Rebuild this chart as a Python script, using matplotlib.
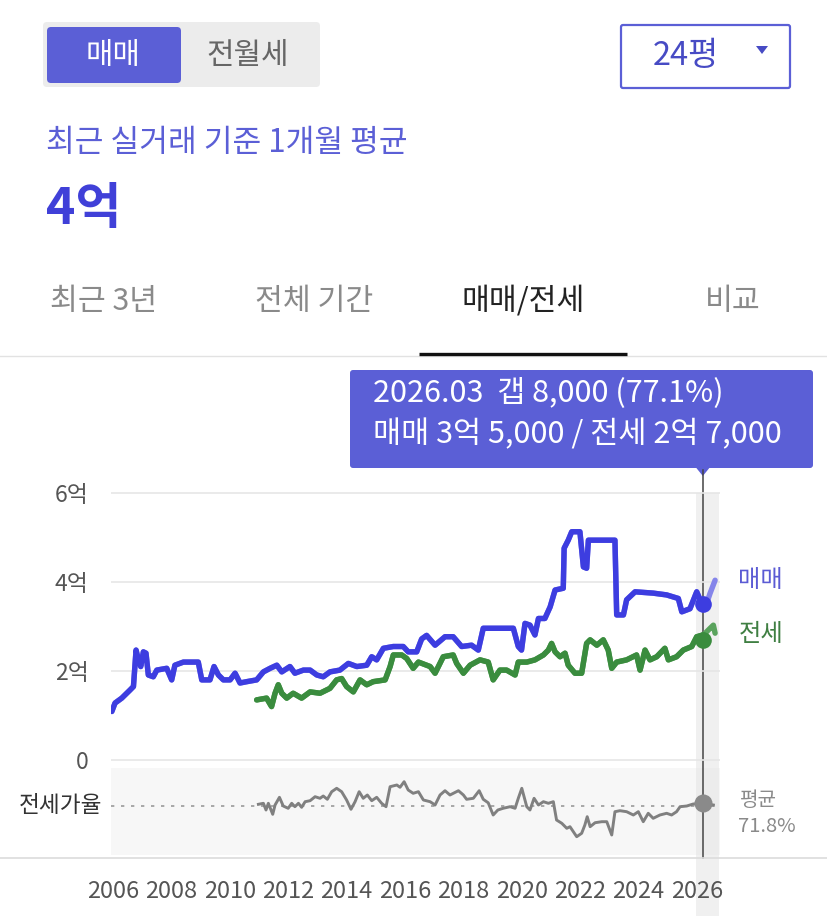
import numpy as np
import matplotlib
matplotlib.use("Agg")
import matplotlib.pyplot as plt
from matplotlib import transforms
from matplotlib.patches import FancyBboxPatch, Rectangle, Polygon
from matplotlib.lines import Line2D

plt.rcParams['font.family'] = ['Noto Sans CJK KR', 'DejaVu Sans']

# 매매가 (억)
sale_year = [2005.96, 2006.07, 2006.30, 2006.58, 2006.70, 2006.79, 2006.87, 2006.95, 2007.04, 2007.13,
             2007.21, 2007.38, 2007.50, 2007.84, 2008.01, 2008.12, 2008.41, 2008.92, 2009.04, 2009.32,
             2009.46, 2009.61, 2009.78, 2010.01, 2010.18, 2010.35, 2010.58, 2010.92, 2011.15, 2011.38,
             2011.61, 2011.78, 2012.06, 2012.23, 2012.52, 2012.75, 2012.98, 2013.20, 2013.43, 2013.77,
             2014.06, 2014.35, 2014.69, 2014.86, 2015.03, 2015.26, 2015.60, 2015.94, 2016.11, 2016.40,
             2016.57, 2016.74, 2017.03, 2017.37, 2017.65, 2017.94, 2018.28, 2018.51, 2018.68, 2019.71,
             2019.88, 2019.99, 2020.11, 2020.28, 2020.45, 2020.57, 2020.79, 2020.97, 2021.14, 2021.42,
             2021.45, 2021.59, 2021.71, 2021.99, 2022.11, 2022.22, 2022.28, 2023.19, 2023.25, 2023.48,
             2023.59, 2023.88, 2024.50, 2024.96, 2025.36, 2025.48, 2025.76, 2025.99, 2026.16, 2026.33,
             2026.45, 2026.62]
sale_price = [1.09, 1.28, 1.39, 1.57, 1.65, 2.47, 2.25, 2.10, 2.43, 2.40,
              1.91, 1.87, 2.02, 2.06, 1.80, 2.13, 2.20, 2.20, 1.80, 1.80,
              2.10, 1.91, 1.80, 1.80, 1.95, 1.73, 1.76, 1.80, 1.98, 2.06,
              2.13, 1.98, 2.10, 1.95, 2.02, 2.02, 1.91, 1.87, 1.98, 2.02,
              2.17, 2.10, 2.13, 2.32, 2.25, 2.51, 2.55, 2.55, 2.43, 2.43,
              2.72, 2.80, 2.58, 2.77, 2.77, 2.55, 2.58, 2.47, 2.96, 2.96,
              2.55, 2.47, 3.07, 3.03, 2.81, 3.18, 3.18, 3.44, 3.82, 3.86,
              4.76, 4.94, 5.13, 5.13, 4.34, 4.31, 4.94, 4.94, 3.26, 3.26,
              3.60, 3.78, 3.75, 3.71, 3.63, 3.33, 3.40, 3.78, 3.52, 3.52,
              3.75, 4.04]

# 전세가 (억)
jeonse_year = [2010.92, 2011.26, 2011.43, 2011.55, 2011.66, 2011.78, 2011.95, 2012.17, 2012.46, 2012.75,
               2013.09, 2013.43, 2013.66, 2013.83, 2014.00, 2014.23, 2014.46, 2014.69, 2014.91, 2015.32,
               2015.49, 2015.60, 2015.89, 2016.06, 2016.28, 2016.46, 2016.86, 2017.03, 2017.31, 2017.65,
               2017.77, 2018.00, 2018.23, 2018.57, 2018.85, 2019.02, 2019.25, 2019.48, 2019.77, 2019.88,
               2020.17, 2020.45, 2020.74, 2020.91, 2021.02, 2021.14, 2021.31, 2021.48, 2021.59, 2021.82,
               2022.05, 2022.22, 2022.34, 2022.57, 2022.79, 2022.96, 2023.08, 2023.25, 2023.59, 2023.93,
               2024.05, 2024.22, 2024.39, 2024.62, 2024.90, 2025.02, 2025.30, 2025.53, 2025.82, 2025.99,
               2026.22, 2026.45, 2026.56, 2026.62]
jeonse_price = [1.35, 1.39, 1.20, 1.50, 1.69, 1.50, 1.39, 1.50, 1.39, 1.53,
                1.50, 1.61, 1.80, 1.83, 1.65, 1.53, 1.80, 1.69, 1.76, 1.80,
                2.10, 2.36, 2.36, 2.28, 2.06, 2.20, 2.10, 1.95, 2.32, 2.36,
                2.17, 1.95, 2.13, 2.25, 2.20, 1.80, 2.02, 2.02, 1.91, 2.20,
                2.20, 2.25, 2.36, 2.47, 2.62, 2.43, 2.32, 2.40, 2.13, 1.95,
                1.95, 2.62, 2.70, 2.58, 2.70, 2.47, 2.06, 2.20, 2.25, 2.36,
                2.02, 2.47, 2.25, 2.32, 2.51, 2.25, 2.32, 2.47, 2.55, 2.77,
                2.81, 2.96, 3.03, 2.85]

# 전세가율 (%)
ratio_year = [2010.98, 2011.15, 2011.24, 2011.32, 2011.47, 2011.55, 2011.70, 2011.83, 2012.00, 2012.12,
              2012.23, 2012.35, 2012.46, 2012.58, 2012.75, 2012.92, 2013.09, 2013.20, 2013.34, 2013.49,
              2013.66, 2013.83, 2014.00, 2014.15, 2014.29, 2014.43, 2014.57, 2014.71, 2014.86, 2015.03,
              2015.20, 2015.35, 2015.49, 2015.72, 2015.83, 2015.97, 2016.11, 2016.28, 2016.46, 2016.63,
              2016.86, 2017.03, 2017.20, 2017.37, 2017.54, 2017.83, 2018.00, 2018.11, 2018.34, 2018.54,
              2018.68, 2018.85, 2019.02, 2019.18, 2019.36, 2019.60, 2019.77, 2019.88, 2020.00, 2020.17,
              2020.28, 2020.42, 2020.57, 2020.74, 2020.91, 2021.08, 2021.19, 2021.37, 2021.54, 2021.65,
              2021.88, 2022.05, 2022.16, 2022.24, 2022.34, 2022.51, 2022.74, 2022.91, 2023.08, 2023.19,
              2023.36, 2023.59, 2023.82, 2023.99, 2024.16, 2024.33, 2024.50, 2024.73, 2024.96, 2025.13,
              2025.30, 2025.42, 2025.65, 2025.87, 2026.22, 2026.56]
ratio_pct = [73.5, 74.5, 67.8, 74.5, 63.5, 72.8, 80.5, 71.8, 69.5, 74.5,
             71.1, 74.5, 70.5, 76.1, 77.1, 81.1, 79.5, 81.8, 78.5, 86.1,
             89.5, 86.1, 77.8, 68.5, 76.1, 86.1, 79.5, 82.8, 77.1, 80.5,
             74.5, 71.1, 91.1, 92.8, 90.5, 96.1, 87.8, 84.5, 86.1, 77.8,
             76.1, 72.8, 82.8, 87.1, 82.8, 87.1, 82.8, 78.5, 79.5, 87.1,
             78.5, 75.0, 62.8, 67.8, 69.5, 71.1, 69.5, 79.5, 89.5, 71.1,
             67.8, 79.5, 72.8, 76.1, 74.5, 76.1, 57.8, 54.5, 49.5, 51.1,
             41.1, 44.5, 52.8, 61.1, 51.1, 55.1, 56.1, 56.1, 42.8, 66.1,
             67.1, 66.1, 62.8, 66.1, 56.1, 64.5, 59.5, 62.8, 64.5, 62.8,
             66.1, 71.1, 71.8, 73.8, 74.5, 72.8]
ratio_avg = 71.8

year_ticks = list(range(2006, 2027, 2))
price_ticks = [0, 2, 4, 6]
price_labels = ['0', '2억', '4억', '6억']

# 커서 (2026.03)
cursor_label = '2026.03'
cursor_year = 2026.2
cursor_sale = 35000     # 만원
cursor_jeonse = 27000   # 만원
cursor_gap = 8000
cursor_gap_pct = 77.1
cursor_ratio_line = 74.5

tabs = ['최근 3년', '전체 기간', '매매/전세', '비교']
tab_x = [104, 314, 523, 733]

BLUE = '#3d3de0'
GREEN = '#3a8c3e'
ACCENT = '#5b5fd6'
WT = 500


def won(v):
    eok, man = divmod(v, 10000)
    return f'{eok}억 {man:,}' if man else f'{eok}억'


W, H = 827, 916
fig = plt.figure(figsize=(W / 100, H / 100), dpi=100)


def box(l, t, r, b):
    return [l / W, 1 - b / H, (r - l) / W, (b - t) / H]


# 배경 UI 레이어 (픽셀 좌표)
ui = fig.add_axes([0, 0, 1, 1], zorder=-1)
ui.set_xlim(0, W)
ui.set_ylim(H, 0)
ui.axis('off')

px_per_year = 29.2
x_left = 2006 + (111 - 113) / px_per_year
x_right = 2006 + (720 - 113) / px_per_year

ax = fig.add_axes(box(111, 491.7, 720, 761.3))
ax2 = fig.add_axes(box(111, 768, 720, 855), sharex=ax)
ax.set_facecolor('none')
ax2.set_facecolor('#f7f7f7')
ax.set_xlim(x_left, x_right)
ax.set_ylim(-0.03, 6.03)
ax2.set_ylim(ratio_avg - 49, ratio_avg + 38)

for a in (ax, ax2):
    for s in a.spines.values():
        s.set_visible(False)

# 상단 버튼
ui.add_patch(FancyBboxPatch((43, 22), 277, 65, boxstyle='round,pad=0,rounding_size=4',
                            fc='#ececec', ec='none'))
ui.add_patch(FancyBboxPatch((47, 27), 134, 56, boxstyle='round,pad=0,rounding_size=4',
                            fc=ACCENT, ec='none'))
ui.text(113, 55, '매매', color='white', fontsize=21.5, fontweight=WT, ha='center', va='center')
ui.text(248, 55, '전월세', color='#666666', fontsize=21.5, fontweight=WT, ha='center', va='center')

ui.add_patch(FancyBboxPatch((621, 25), 169, 63, boxstyle='round,pad=0,rounding_size=2',
                            fc='white', ec=ACCENT, lw=1.6))
ui.text(686, 56, '24평', color='#474bc4', fontsize=23.5, fontweight=WT, ha='center', va='center')
ui.add_patch(Polygon([(756, 46), (768, 46), (762, 54)], closed=True, fc='#474bc4', ec='none'))

ui.text(46, 143, '최근 실거래 기준 1개월 평균', color=ACCENT, fontsize=22.5, fontweight=WT,
        ha='left', va='center')
ui.text(46, 210, '4억', color='#4040d8', fontsize=36, fontweight='bold', ha='left', va='center')

# 탭
for name, tx in zip(tabs, tab_x):
    active = name == '매매/전세'
    ui.text(tx, 301, name, color='#222222' if active else '#8a8a8a', fontsize=21.8,
            fontweight=WT, ha='center', va='center')
ui.plot([0, W], [356, 356], color='#e2e2e2', lw=1)
ui.plot([419, 627], [353.5, 353.5], color='#111111', lw=2.4, solid_capstyle='butt')

# 호버 영역 + 커서
bt = transforms.blended_transform_factory(ax.transData, ui.transData)
ui.add_patch(Rectangle((2025.95, 493), 0.8, H - 493, transform=bt, fc='#f0f0f0', ec='none'))
ui.add_line(Line2D([cursor_year, cursor_year], [470, 858], transform=bt, color='#444444', lw=1.1))
ui.plot([0, W], [858, 858], color='#dcdcdc', lw=1.2)

# 툴팁
ui.add_patch(FancyBboxPatch((350, 370), 463, 98, boxstyle='round,pad=0,rounding_size=3',
                            fc=ACCENT, ec='none'))
ui.add_patch(Polygon([(cursor_year - 0.25, 467), (cursor_year + 0.25, 467), (cursor_year, 476)],
                     closed=True, transform=bt, fc=ACCENT, ec='none'))
ui.text(373, 393, f'{cursor_label}  갭 {cursor_gap:,} ({cursor_gap_pct}%)', color='white',
        fontsize=22, fontweight=WT, ha='left', va='center')
ui.text(373, 435, f'매매 {won(cursor_sale)} / 전세 {won(cursor_jeonse)}', color='white',
        fontsize=22, fontweight=WT, ha='left', va='center')

# 가격 차트
ax.set_yticks(price_ticks, price_labels)
ax.tick_params(axis='y', length=0, pad=16, labelsize=16.5, labelcolor='#555555')
ax.tick_params(axis='x', bottom=False, labelbottom=False)
ax.grid(axis='y', color='#e6e6e6', lw=1.2)
ax.set_axisbelow(True)

sy = np.array(sale_year)
sp = np.array(sale_price)
jy = np.array(jeonse_year)
jp = np.array(jeonse_price)

LW = 3.9
ax.plot(sy, sp, color='#8585ea', lw=LW, solid_joinstyle='round', solid_capstyle='round')
m = sy <= cursor_year
ax.plot(sy[m], sp[m], color=BLUE, lw=LW, solid_joinstyle='round', solid_capstyle='round')
ax.plot(jy, jp, color='#5aa35d', lw=LW, solid_joinstyle='round', solid_capstyle='round')
m = jy <= cursor_year + 0.05
ax.plot(jy[m], jp[m], color=GREEN, lw=LW, solid_joinstyle='round', solid_capstyle='round')

ax.plot([cursor_year], [cursor_sale / 10000], 'o', ms=12, color=BLUE, mec='none', zorder=5)
ax.plot([cursor_year], [cursor_jeonse / 10000], 'o', ms=12, color=GREEN, mec='none', zorder=5)

ax.text(1.03, 4.04, '매매', transform=ax.get_yaxis_transform(), color='#5b5bd4', fontsize=17.5,
        fontweight=WT, ha='left', va='center')
ax.text(1.03, 2.83, '전세', transform=ax.get_yaxis_transform(), color='#3f7f42', fontsize=17.5,
        fontweight=WT, ha='left', va='center')

# 전세가율
ax2.axvspan(2025.95, 2026.75, color='#ececec', lw=0)
ax2.axvline(cursor_year, color='#444444', lw=1.1)
ax2.axhline(ratio_avg, color='#9a9a9a', lw=1.2, ls=(0, (2, 4)))
ax2.plot(ratio_year, ratio_pct, color='#808080', lw=2.1, solid_joinstyle='round')
ax2.plot([cursor_year], [cursor_ratio_line], 'o', ms=13, color='#8a8a8a', mec='none', zorder=5)
ax2.set_yticks([])
ax2.set_xticks(year_ticks, [str(y) for y in year_ticks])
ax2.tick_params(axis='x', length=0, pad=18, labelsize=17, labelcolor='#555555')

ax2.text(-0.015, ratio_avg, '전세가율', transform=ax2.get_yaxis_transform(), color='#333333',
         fontsize=16.3, fontweight=WT, ha='right', va='center')
ax2.text(1.033, ratio_avg + 6, '평균', transform=ax2.get_yaxis_transform(), color='#8a8a8a',
         fontsize=14.5, fontweight=WT, ha='left', va='center')
ax2.text(1.03, ratio_avg - 20, f'{ratio_avg}%', transform=ax2.get_yaxis_transform(),
         color='#8a8a8a', fontsize=14.5, fontweight=WT, ha='left', va='center')

fig.savefig('out.png', dpi=100, facecolor='white')
